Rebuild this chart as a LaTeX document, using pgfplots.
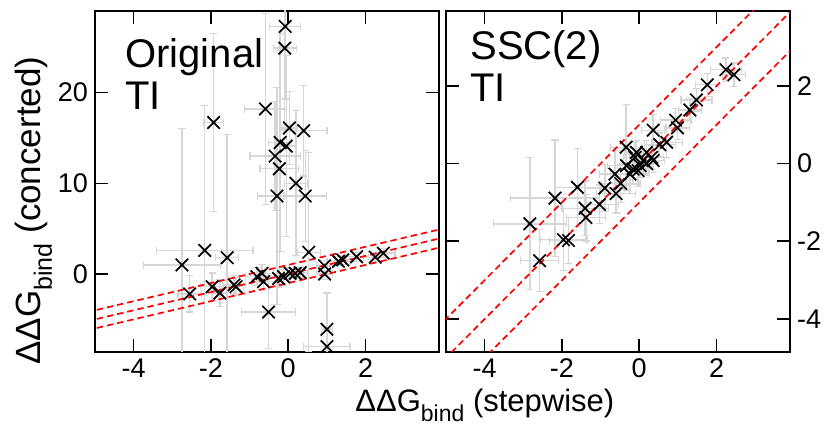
\documentclass[border=0pt]{standalone}
\usepackage{fontspec}
\setmainfont{Liberation Sans}
\usepackage{pgfplots}
\usepackage{pgfplotstable}
\pgfplotsset{compat=1.18}

% x y x-error y-error
\pgfplotstableread{
x y ex ey
-0.08 27.3 0.40 8.0
-0.09 24.9 0.30 9.0
-0.59 18.2 0.55 10.5
-1.93 16.7 0.25 9.8
0.03 16.1 0.20 4.0
0.40 15.8 0.60 5.0
-0.21 14.5 0.30 12.0
-0.05 14.1 0.25 10.0
-0.34 13.0 0.65 6.0
-0.23 11.6 0.50 13.0
0.20 10.0 0.30 8.0
-0.29 8.6 0.50 12.0
0.44 8.6 0.55 5.0
-2.16 2.6 1.25 16.0
-2.75 1.0 1.00 15.0
-1.58 1.8 0.30 13.6
0.53 2.4 0.30 11.0
-2.55 -2.2 0.30 2.0
-1.97 -1.4 0.30 1.5
-1.77 -2.1 0.20 1.5
-1.40 -1.2 0.30 1.0
-1.35 -1.4 0.20 1.0
-0.81 -0.3 0.30 1.0
-0.68 0.07 0.30 1.0
-0.64 -0.85 0.30 1.0
-0.51 -4.2 0.70 4.0
-0.25 -0.5 0.30 1.0
-0.12 -0.3 0.20 1.0
0.05 0.07 0.20 0.6
0.18 0.07 0.20 0.6
0.31 0.15 0.20 0.6
0.94 0.9 0.20 0.6
0.94 0.0 0.20 0.6
1.00 -6.1 0.15 4.0
1.00 -8.0 0.60 2.0
1.41 1.55 0.20 0.5
1.77 1.9 0.30 0.5
2.25 1.85 0.30 0.5
2.46 2.3 0.30 0.5
1.30 1.4 0.30 0.5
}\origdata

\pgfplotstableread{
x y ex ey
2.24 2.42 0.40 0.30
2.45 2.29 0.30 0.30
1.76 2.03 0.30 0.30
1.48 1.64 0.40 0.30
1.31 1.38 0.30 0.30
0.94 1.12 0.40 0.30
0.99 0.92 0.30 0.30
0.36 0.86 0.30 0.40
0.53 0.49 0.40 0.30
-0.34 0.42 0.40 1.10
-0.07 0.29 0.30 0.30
0.19 0.29 0.30 0.30
0.32 0.16 0.30 0.30
-0.33 -0.05 0.50 0.50
-0.16 -0.14 0.40 0.40
0.02 -0.05 0.30 0.30
-0.24 -0.27 0.50 0.50
-0.63 -0.27 0.40 0.60
-0.89 -0.63 0.50 0.60
-0.60 -0.77 0.50 0.50
-1.03 -1.05 0.50 0.50
-1.60 -0.61 0.60 1.00
-2.18 -0.89 1.15 1.50
-2.83 -1.55 0.95 1.70
-1.40 -1.15 0.60 0.70
-1.38 -1.39 0.50 0.60
-1.96 -1.96 0.60 0.80
-1.83 -1.98 0.50 0.60
-2.58 -2.50 0.50 0.80
0.36 0.08 0.30 0.30
0.10 0.08 0.30 0.30
-0.48 -0.51 0.50 0.50
-0.11 0.16 0.30 0.40
0.71 0.55 0.40 0.40
0.19 0.00 0.30 0.30
-0.03 -0.18 0.30 0.40
}\sscdata

\pgfplotsset{
  panel/.style={
    anchor=south west, scale only axis,
    width=172pt, height=170.5pt,
    xmin=-5, xmax=3.9,
    tick align=inside, major tick length=6.5pt,
    axis line style={line width=1pt},
    every tick/.style={black, line width=0.8pt},
    xtick={-4,-2,0,2}, xticklabels={-4,-2,0,2},
    tick label style={font=\fontsize{13.5}{13.5}\selectfont},
  },
  % error bars only: the centre mark is shrunk to nothing
  errs/.style={
    black!16, only marks, mark=*, mark size=0pt,
    error bars/.cd, x dir=both, x explicit, y dir=both, y explicit,
    error bar style={black!16, line width=0.7pt},
    error mark options={rotate=90, mark size=1.8pt, black!16, line width=0.6pt},
  },
  refline/.style={red, line width=0.85pt, dash pattern=on 3.2pt off 2pt},
  % the x mark spans 0.707 * mark size each way
  pts/.style={black, only marks, mark=x, mark size=4.4pt, mark options={line width=0.85pt}},
}

\begin{document}
\begin{tikzpicture}
\path[use as bounding box] (0pt,0pt) rectangle (413.5pt,213.5pt);

\begin{axis}[panel, at={(47.5pt,37.5pt)},
    ymin=-8.6, ymax=29,
    ytick={0,10,20}, yticklabels={0,10,20}]
\addplot[errs] table[x=x, y=y, x error=ex, y error=ey] {\origdata};
\addplot[refline] coordinates {(-6,-5) (5,6)};
\addplot[refline] coordinates {(-6,-6) (5,5)};
\addplot[refline] coordinates {(-6,-7) (5,4)};
\addplot[pts] table[x=x, y=y] {\origdata};
\end{axis}

\begin{axis}[panel, at={(223pt,37.5pt)},
    ymin=-4.85, ymax=3.93,
    ytick={-4,-2,0,2}, yticklabels={-4,-2,0,2},
    ytick pos=both, yticklabel pos=right]
\addplot[errs] table[x=x, y=y, x error=ex, y error=ey] {\sscdata};
\addplot[refline] coordinates {(-6,-5) (5,6)};
\addplot[refline] coordinates {(-6,-6) (5,5)};
\addplot[refline] coordinates {(-6,-7) (5,4)};
\addplot[pts] table[x=x, y=y] {\sscdata};
\end{axis}

\node[anchor=base west, font=\fontsize{20}{20}\selectfont, inner sep=0pt] at (62.5pt,179.5pt) {Original};
\node[anchor=base west, font=\fontsize{20}{20}\selectfont, inner sep=0pt] at (62.5pt,158.5pt) {TI};
\node[anchor=base west, font=\fontsize{20}{20}\selectfont, inner sep=0pt] at (235pt,183.5pt) {SSC(2)};
\node[anchor=base west, font=\fontsize{20}{20}\selectfont, inner sep=0pt] at (235pt,162.5pt) {TI};

\node[anchor=base west, inner sep=0pt, font=\fontsize{15.5}{15.5}\selectfont] at (177.5pt,7.5pt)
  {ΔΔG\raisebox{-5pt}{\fontsize{11.5}{11.5}\selectfont bind} (stepwise)};
\node[anchor=base west, inner sep=0pt, rotate=90, font=\fontsize{17.5}{17.5}\selectfont] at (20.5pt,31pt)
  {ΔΔG\raisebox{-5.5pt}{\fontsize{12.5}{12.5}\selectfont bind} (concerted)};
\end{tikzpicture}
\end{document}
